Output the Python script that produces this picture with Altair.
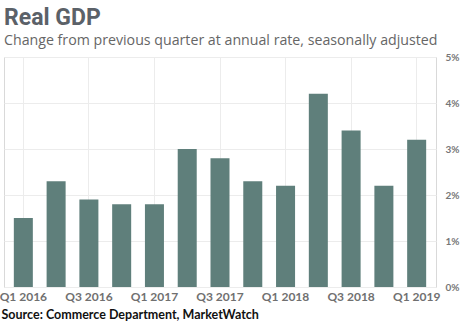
import altair as alt
import pandas as pd

quarters = ["Q1 2016", "Q2 2016", "Q3 2016", "Q4 2016",
            "Q1 2017", "Q2 2017", "Q3 2017", "Q4 2017",
            "Q1 2018", "Q2 2018", "Q3 2018", "Q4 2018", "Q1 2019"]
growth = [1.5, 2.3, 1.9, 1.8, 1.8, 3.0, 2.8, 2.3, 2.2, 4.2, 3.4, 2.2, 3.2]
label_quarters = ["Q1 2016", "Q3 2016", "Q1 2017", "Q3 2017", "Q1 2018", "Q3 2018", "Q1 2019"]
y_ticks = [0, 1, 2, 3, 4, 5]

df = pd.DataFrame({"quarter": quarters, "growth": growth})

chart = alt.Chart(df).mark_bar(color="#5f7f7b").encode(
    x=alt.X("quarter:N", sort=quarters,
            scale=alt.Scale(paddingInner=0.42, paddingOuter=0.3),
            axis=alt.Axis(values=label_quarters, labelAngle=0, ticks=False, domain=False,
                          labelFont="Lato", labelFontWeight="bold", labelFontSize=12,
                          labelColor="#707070", labelPadding=4,
                          grid=True, gridColor="#ececec",
                          title="Source: Commerce Department, MarketWatch",
                          titleFont="Lato", titleFontWeight="bold", titleFontSize=12.5,
                          titleColor="#111111", titleAnchor="start", titleAlign="left",
                          titleX=-3, titleY=31, titleBaseline="alphabetic")),
    y=alt.Y("growth:Q", scale=alt.Scale(domain=[0, 5]),
            axis=alt.Axis(orient="right", values=y_ticks, labelExpr="datum.value + '%'",
                          ticks=False, domain=False, labelPadding=9,
                          labelFont="Lato", labelFontWeight="bold", labelFontSize=10,
                          labelColor="#777777", grid=True, gridColor="#ececec", title=None)),
).properties(
    width=432, height=230,
    padding={"left": 4, "top": 57, "right": 30, "bottom": 36},
    autosize=alt.AutoSizeParams(type="none"),
    title=alt.TitleParams(
        text="Real GDP",
        subtitle="Change from previous quarter at annual rate, seasonally adjusted",
        anchor="start", frame="group",
        font="Roboto", fontSize=23, fontWeight="bold", color="#5b6168",
        subtitleFont="Open Sans", subtitleFontSize=14.2, subtitleColor="#666666",
        subtitlePadding=4, offset=4,
    ),
).configure_view(stroke="#d9d9d9", strokeWidth=1)

chart.save("out.html", embed_options={"renderer": "svg", "actions": False})
